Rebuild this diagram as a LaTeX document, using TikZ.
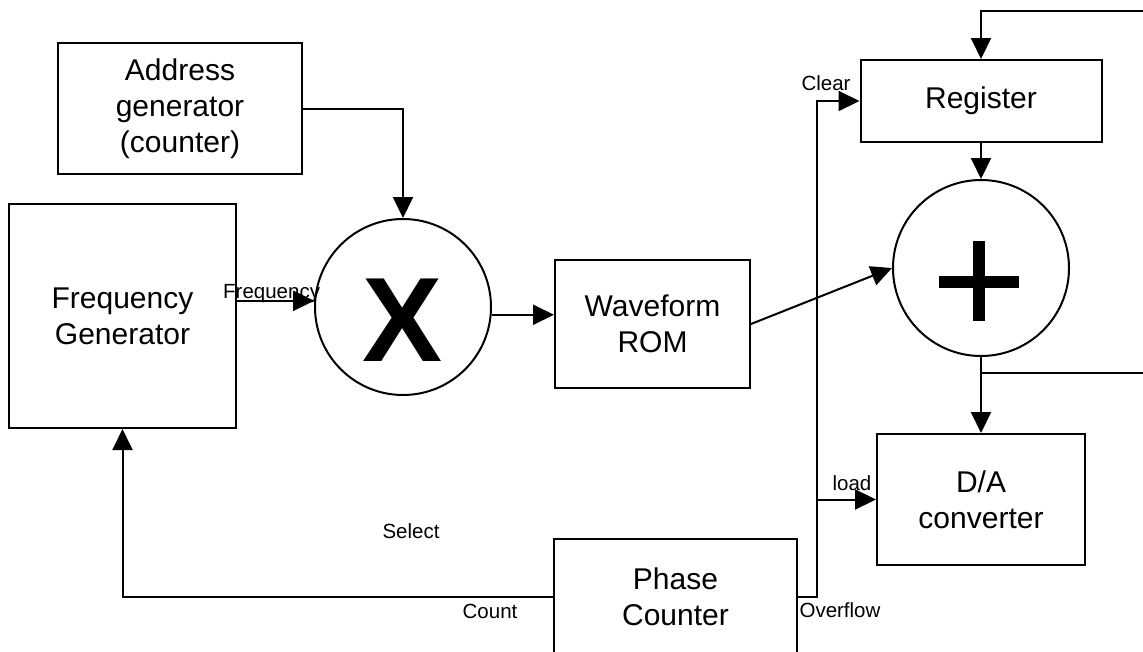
\documentclass[tikz,border=0pt]{standalone}
\usepackage{fontspec}
\setmainfont{Liberation Sans}
\usetikzlibrary{arrows.meta}
\tikzset{
  blk/.style={draw, line width=2pt, inner sep=0pt, align=center, font=\fontsize{30}{36}\selectfont},
  rnd/.style={draw, circle, line width=2pt, inner sep=0pt, minimum size=176pt},
  lbl/.style={inner sep=0pt, font=\fontsize{20.5}{24}\selectfont},
  arr/.style={line width=2pt, -{Triangle[length=21pt,width=20pt]}},
  wire/.style={line width=2pt},
}

\begin{document}
\begin{tikzpicture}[x=1pt,y=-1pt]
	\useasboundingbox (0,0) rectangle (1143,651);
	\clip (0,0) rectangle (1143,651);
	
	\node[blk, minimum width=244pt, minimum height=131pt] (addr) at (180,108.5) {Address\\generator\\(counter)};
	\node[blk, minimum width=227pt, minimum height=224pt] (freq) at (122.5,316) {Frequency\\Generator};
	\node[rnd] (mult) at (403,307) {};
	\node[inner sep=0pt, font=\fontsize{120}{120}\selectfont\bfseries] (xsym) at (403,320) {X};
	\node[blk, minimum width=195pt, minimum height=128pt] (rom) at (652.5,324) {Waveform\\ROM};
	\node[blk, minimum width=241pt, minimum height=82pt] (reg) at (981,101) {Register};
	\node[rnd] (adder) at (981,268) {};
	\node[blk, minimum width=208pt, minimum height=131pt] (dac) at (981,499.5) {D/A\\converter};
	\node[blk, minimum width=243pt, minimum height=116pt] (phase) at (675.5,597) {Phase\\Counter};
	
	\draw[line width=12pt] ([shift={(-42,13.5)}]adder.center) -- ([shift={(38,13.5)}]adder.center);
	\draw[line width=12pt] ([shift={(-2,-27)}]adder.center) -- ([shift={(-2,53)}]adder.center);
	
	\coordinate (fbin) at (1150,11);
	\coordinate (fbout) at (1150,373);
	\coordinate (ovf) at ([xshift=19pt]phase.east);
	
	\draw[arr] (addr.east) -| (mult.north);
	\draw[arr] (freq.east |- mult.176) -- (mult.176);
	\draw[arr] (mult.-5) -- (rom.west |- mult.-5);
	\draw[arr] (rom.east) -- (adder.west);
	\draw[arr] (fbin) -| (reg.north);
	\draw[arr] (reg.south) -- (adder.north);
	\draw[arr] (adder.south) -- (dac.north);
	\draw[wire] (adder.south |- fbout) -- (fbout);
	\draw[arr] (phase.west) -| (freq.south);
	\draw[arr] (phase.east) -- (ovf) |- (reg.west);
	\draw[arr] (ovf |- dac.west) -- (dac.west);
	
	\node[lbl, anchor=base west] (flbl) at (223,298) {Frequency};
	\node[lbl] (slbl) at (411,531) {Select};
	\node[lbl] (clbl) at (490,611) {Count};
	\node[lbl] (olbl) at (840,610) {Overflow};
	\node[lbl] (clrlbl) at (826,83) {Clear};
	\node[lbl] (ldlbl) at (852,483) {load};
\end{tikzpicture}
\end{document}
